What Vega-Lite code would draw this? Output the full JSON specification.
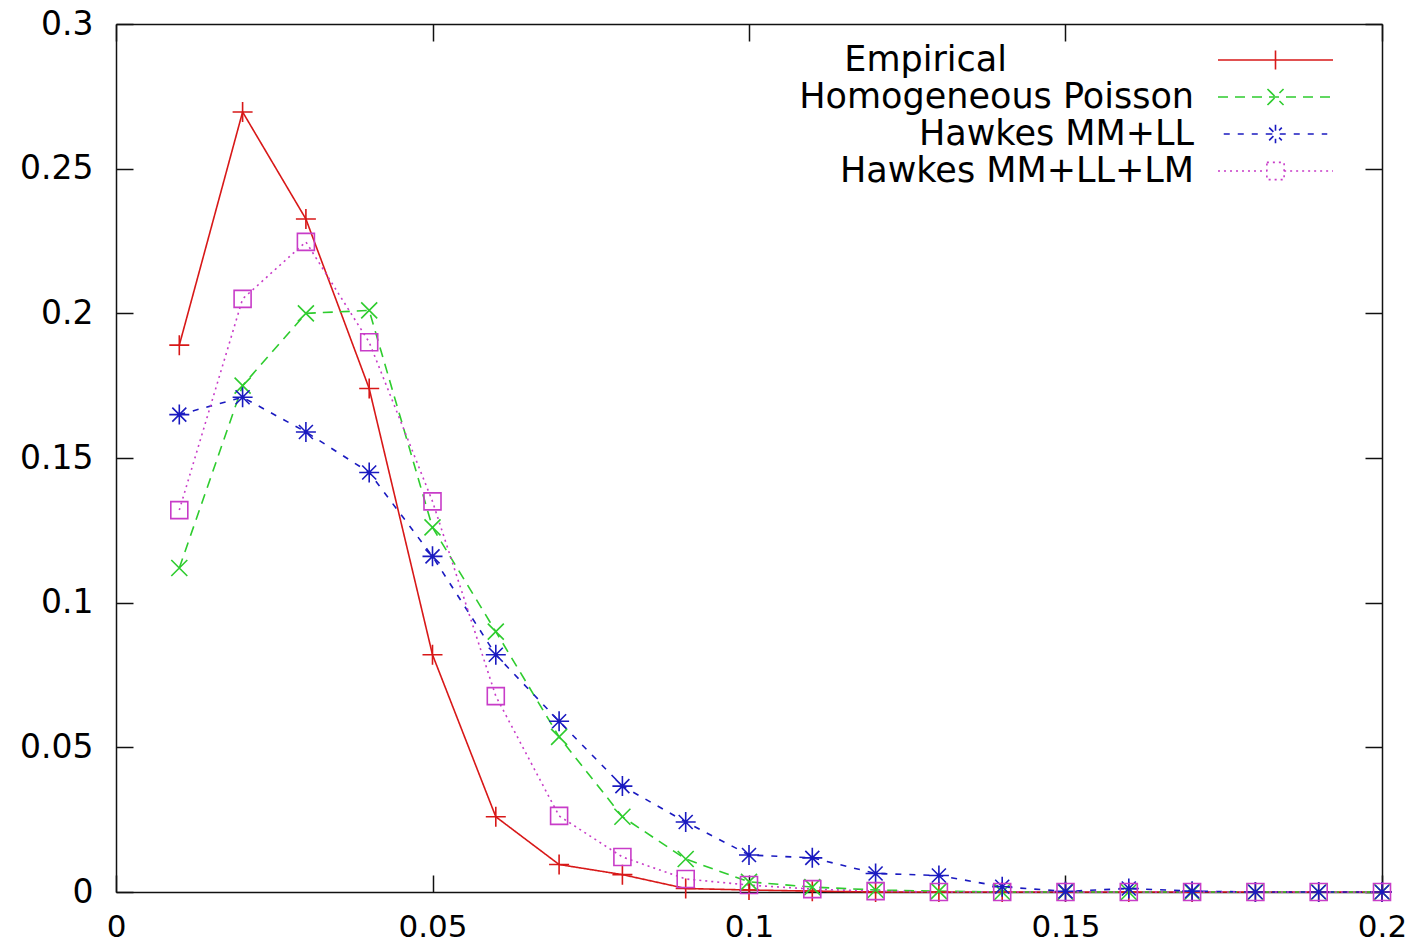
{
  "$schema": "https://vega.github.io/schema/vega-lite/v6.json",
  "width": 1266,
  "height": 868,
  "autosize": {"type": "none"},
  "padding": {"left": 116, "top": 24, "right": 37, "bottom": 52},
  "background": "white",
  "config": {"view": {"stroke": null}, "font": "DejaVu Sans"},
  "data": {"values": [
    {"delay": 0.01, "prob": 0.189, "model": "Empirical"},
    {"delay": 0.02, "prob": 0.2696, "model": "Empirical"},
    {"delay": 0.03, "prob": 0.2326, "model": "Empirical"},
    {"delay": 0.04, "prob": 0.174, "model": "Empirical"},
    {"delay": 0.05, "prob": 0.082, "model": "Empirical"},
    {"delay": 0.06, "prob": 0.026, "model": "Empirical"},
    {"delay": 0.07, "prob": 0.0095, "model": "Empirical"},
    {"delay": 0.08, "prob": 0.006, "model": "Empirical"},
    {"delay": 0.09, "prob": 0.0012, "model": "Empirical"},
    {"delay": 0.1, "prob": 0.0007, "model": "Empirical"},
    {"delay": 0.11, "prob": 0.0003, "model": "Empirical"},
    {"delay": 0.12, "prob": 0, "model": "Empirical"},
    {"delay": 0.13, "prob": 0, "model": "Empirical"},
    {"delay": 0.14, "prob": 0, "model": "Empirical"},
    {"delay": 0.15, "prob": 0, "model": "Empirical"},
    {"delay": 0.16, "prob": 0, "model": "Empirical"},
    {"delay": 0.17, "prob": 0, "model": "Empirical"},
    {"delay": 0.18, "prob": 0, "model": "Empirical"},
    {"delay": 0.19, "prob": 0, "model": "Empirical"},
    {"delay": 0.2, "prob": 0, "model": "Empirical"},
    {"delay": 0.01, "prob": 0.112, "model": "Homogeneous Poisson"},
    {"delay": 0.02, "prob": 0.175, "model": "Homogeneous Poisson"},
    {"delay": 0.03, "prob": 0.2, "model": "Homogeneous Poisson"},
    {"delay": 0.04, "prob": 0.201, "model": "Homogeneous Poisson"},
    {"delay": 0.05, "prob": 0.126, "model": "Homogeneous Poisson"},
    {"delay": 0.06, "prob": 0.09, "model": "Homogeneous Poisson"},
    {"delay": 0.07, "prob": 0.0536, "model": "Homogeneous Poisson"},
    {"delay": 0.08, "prob": 0.026, "model": "Homogeneous Poisson"},
    {"delay": 0.09, "prob": 0.0114, "model": "Homogeneous Poisson"},
    {"delay": 0.1, "prob": 0.0035, "model": "Homogeneous Poisson"},
    {"delay": 0.11, "prob": 0.0017, "model": "Homogeneous Poisson"},
    {"delay": 0.12, "prob": 0.0007, "model": "Homogeneous Poisson"},
    {"delay": 0.13, "prob": 0.0003, "model": "Homogeneous Poisson"},
    {"delay": 0.14, "prob": 0, "model": "Homogeneous Poisson"},
    {"delay": 0.15, "prob": 0, "model": "Homogeneous Poisson"},
    {"delay": 0.16, "prob": 0, "model": "Homogeneous Poisson"},
    {"delay": 0.17, "prob": 0, "model": "Homogeneous Poisson"},
    {"delay": 0.18, "prob": 0, "model": "Homogeneous Poisson"},
    {"delay": 0.19, "prob": 0, "model": "Homogeneous Poisson"},
    {"delay": 0.2, "prob": 0, "model": "Homogeneous Poisson"},
    {"delay": 0.01, "prob": 0.165, "model": "Hawkes MM+LL"},
    {"delay": 0.02, "prob": 0.171, "model": "Hawkes MM+LL"},
    {"delay": 0.03, "prob": 0.159, "model": "Hawkes MM+LL"},
    {"delay": 0.04, "prob": 0.145, "model": "Hawkes MM+LL"},
    {"delay": 0.05, "prob": 0.116, "model": "Hawkes MM+LL"},
    {"delay": 0.06, "prob": 0.082, "model": "Hawkes MM+LL"},
    {"delay": 0.07, "prob": 0.059, "model": "Hawkes MM+LL"},
    {"delay": 0.08, "prob": 0.0366, "model": "Hawkes MM+LL"},
    {"delay": 0.09, "prob": 0.0242, "model": "Hawkes MM+LL"},
    {"delay": 0.1, "prob": 0.0128, "model": "Hawkes MM+LL"},
    {"delay": 0.11, "prob": 0.0118, "model": "Hawkes MM+LL"},
    {"delay": 0.12, "prob": 0.0064, "model": "Hawkes MM+LL"},
    {"delay": 0.13, "prob": 0.0057, "model": "Hawkes MM+LL"},
    {"delay": 0.14, "prob": 0.0018, "model": "Hawkes MM+LL"},
    {"delay": 0.15, "prob": 0.0002, "model": "Hawkes MM+LL"},
    {"delay": 0.16, "prob": 0.0012, "model": "Hawkes MM+LL"},
    {"delay": 0.17, "prob": 0.0003, "model": "Hawkes MM+LL"},
    {"delay": 0.18, "prob": 0, "model": "Hawkes MM+LL"},
    {"delay": 0.19, "prob": 0, "model": "Hawkes MM+LL"},
    {"delay": 0.2, "prob": 0, "model": "Hawkes MM+LL"},
    {"delay": 0.01, "prob": 0.132, "model": "Hawkes MM+LL+LM"},
    {"delay": 0.02, "prob": 0.205, "model": "Hawkes MM+LL+LM"},
    {"delay": 0.03, "prob": 0.2247, "model": "Hawkes MM+LL+LM"},
    {"delay": 0.04, "prob": 0.19, "model": "Hawkes MM+LL+LM"},
    {"delay": 0.05, "prob": 0.135, "model": "Hawkes MM+LL+LM"},
    {"delay": 0.06, "prob": 0.0677, "model": "Hawkes MM+LL+LM"},
    {"delay": 0.07, "prob": 0.0263, "model": "Hawkes MM+LL+LM"},
    {"delay": 0.08, "prob": 0.0121, "model": "Hawkes MM+LL+LM"},
    {"delay": 0.09, "prob": 0.0045, "model": "Hawkes MM+LL+LM"},
    {"delay": 0.1, "prob": 0.0024, "model": "Hawkes MM+LL+LM"},
    {"delay": 0.11, "prob": 0.001, "model": "Hawkes MM+LL+LM"},
    {"delay": 0.12, "prob": 0.0003, "model": "Hawkes MM+LL+LM"},
    {"delay": 0.13, "prob": 0, "model": "Hawkes MM+LL+LM"},
    {"delay": 0.14, "prob": 0, "model": "Hawkes MM+LL+LM"},
    {"delay": 0.15, "prob": 0, "model": "Hawkes MM+LL+LM"},
    {"delay": 0.16, "prob": 0, "model": "Hawkes MM+LL+LM"},
    {"delay": 0.17, "prob": 0, "model": "Hawkes MM+LL+LM"},
    {"delay": 0.18, "prob": 0, "model": "Hawkes MM+LL+LM"},
    {"delay": 0.19, "prob": 0, "model": "Hawkes MM+LL+LM"},
    {"delay": 0.2, "prob": 0, "model": "Hawkes MM+LL+LM"}
  ]},
  "layer": [
    {
      "mark": {"type": "line", "strokeWidth": 1.6},
      "encoding": {
        "x": {"field": "delay", "type": "quantitative",
          "scale": {"domain": [0, 0.2], "nice": false},
          "axis": {"orient": "bottom", "values": [0, 0.05, 0.1, 0.15, 0.2], "format": "~g", "title": null, "grid": false,
            "tickSize": -17, "tickWidth": 1.5, "tickColor": "#111", "domainColor": "#111", "domainWidth": 1.5,
            "labelPadding": 61, "labelBaseline": "alphabetic", "labelFontSize": 31, "labelColor": "black", "labelFlush": false, "labelOverlap": false}},
        "y": {"field": "prob", "type": "quantitative",
          "scale": {"domain": [0, 0.3], "nice": false},
          "axis": {"orient": "left", "values": [0, 0.05, 0.1, 0.15, 0.2, 0.25, 0.3], "format": "~g", "title": null, "grid": false,
            "tickSize": -17, "tickWidth": 1.5, "tickColor": "#111", "domainColor": "#111", "domainWidth": 1.5,
            "labelPadding": 40, "labelFontSize": 33, "labelColor": "black", "labelFlush": false, "labelOverlap": false}},
        "color": {"field": "model", "type": "nominal",
          "scale": {"domain": ["Empirical", "Homogeneous Poisson", "Hawkes MM+LL", "Hawkes MM+LL+LM"],
                    "range": ["#d81818", "#2ecc2e", "#1a1ac0", "#c83cc8"]},
          "legend": {"orient": "none", "legendX": 1101, "legendY": 18.5, "title": null, "padding": 0, "rowPadding": 1,
            "symbolSize": 13225, "symbolStrokeWidth": 1.6, "labelFontSize": 35, "labelAlign": "right", "labelOffset": -140,
            "labelColor": "black", "labelLimit": 0, "labelBaseline": "middle",
            "encode": {
              "labels": {"update": {"y": {"value": 17.5}, "dx": {"signal": "datum.value == 'Empirical' ? -187 : 0"}}},
              "symbols": {"update": {
              "y": {"value": 17.5},
              "fill": {"value": "transparent"},
              "shape": {"signal": "datum.value == 'Empirical' ? 'M-1,0H1M0,-0.165V0.165' : datum.value == 'Homogeneous Poisson' ? 'M-1,0H1M-0.14,-0.14L0.14,0.14M-0.14,0.14L0.14,-0.14' : datum.value == 'Hawkes MM+LL' ? 'M-0.9,0H0.9M-0.16,0H0.16M0,-0.16V0.16M-0.11,-0.11L0.11,0.11M-0.11,0.11L0.11,-0.11' : 'M-1,0H-0.15M0.15,0H1M-0.15,-0.15H0.15V0.15H-0.15Z'"},
              "strokeDash": {"signal": "datum.value == 'Empirical' ? [1,0] : datum.value == 'Homogeneous Poisson' ? [10,7] : datum.value == 'Hawkes MM+LL' ? [6,8] : [2,4]"}
            }}}}},
        "strokeDash": {"field": "model", "type": "nominal",
          "scale": {"domain": ["Empirical", "Homogeneous Poisson", "Hawkes MM+LL", "Hawkes MM+LL+LM"],
                    "range": [[1, 0], [10, 7], [6, 8], [2, 4]]},
          "legend": null},
        "order": {"field": "delay"}
      }
    },
    {
      "transform": [{"filter": "datum.model == 'Empirical'"}],
      "mark": {"type": "point", "filled": false, "strokeWidth": 1.6, "size": 400, "opacity": 1, "color": "#d81818", "shape": "M-1,0H1M0,-1V1"},
      "encoding": {
        "x": {"field": "delay", "type": "quantitative",
          "axis": {"orient": "top", "values": [0, 0.05, 0.1, 0.15, 0.2], "labels": false, "title": null, "grid": false,
            "tickSize": -17, "tickWidth": 1.5, "tickColor": "#111", "domainColor": "#111", "domainWidth": 1.5}},
        "y": {"field": "prob", "type": "quantitative",
          "axis": {"orient": "right", "values": [0, 0.05, 0.1, 0.15, 0.2, 0.25, 0.3], "labels": false, "title": null, "grid": false,
            "tickSize": -17, "tickWidth": 1.5, "tickColor": "#111", "domainColor": "#111", "domainWidth": 1.5}}
      }
    },
    {
      "transform": [{"filter": "datum.model == 'Homogeneous Poisson'"}],
      "mark": {"type": "point", "filled": false, "strokeWidth": 1.6, "size": 400, "opacity": 1, "color": "#2ecc2e", "shape": "M-0.8,-0.8L0.8,0.8M-0.8,0.8L0.8,-0.8"},
      "encoding": {
        "x": {"field": "delay", "type": "quantitative", "axis": null},
        "y": {"field": "prob", "type": "quantitative", "axis": null}
      }
    },
    {
      "transform": [{"filter": "datum.model == 'Hawkes MM+LL'"}],
      "mark": {"type": "point", "filled": false, "strokeWidth": 1.6, "size": 400, "opacity": 1, "color": "#1a1ac0", "shape": "M-1,0H1M0,-1V1M-0.7,-0.7L0.7,0.7M-0.7,0.7L0.7,-0.7"},
      "encoding": {
        "x": {"field": "delay", "type": "quantitative", "axis": null},
        "y": {"field": "prob", "type": "quantitative", "axis": null}
      }
    },
    {
      "transform": [{"filter": "datum.model == 'Hawkes MM+LL+LM'"}],
      "mark": {"type": "point", "filled": false, "strokeWidth": 1.6, "size": 400, "opacity": 1, "color": "#c83cc8", "shape": "M-0.85,-0.85H0.85V0.85H-0.85Z"},
      "encoding": {
        "x": {"field": "delay", "type": "quantitative", "axis": null},
        "y": {"field": "prob", "type": "quantitative", "axis": null}
      }
    }
  ],
  "resolve": {"axis": {"x": "independent", "y": "independent"}}
}
